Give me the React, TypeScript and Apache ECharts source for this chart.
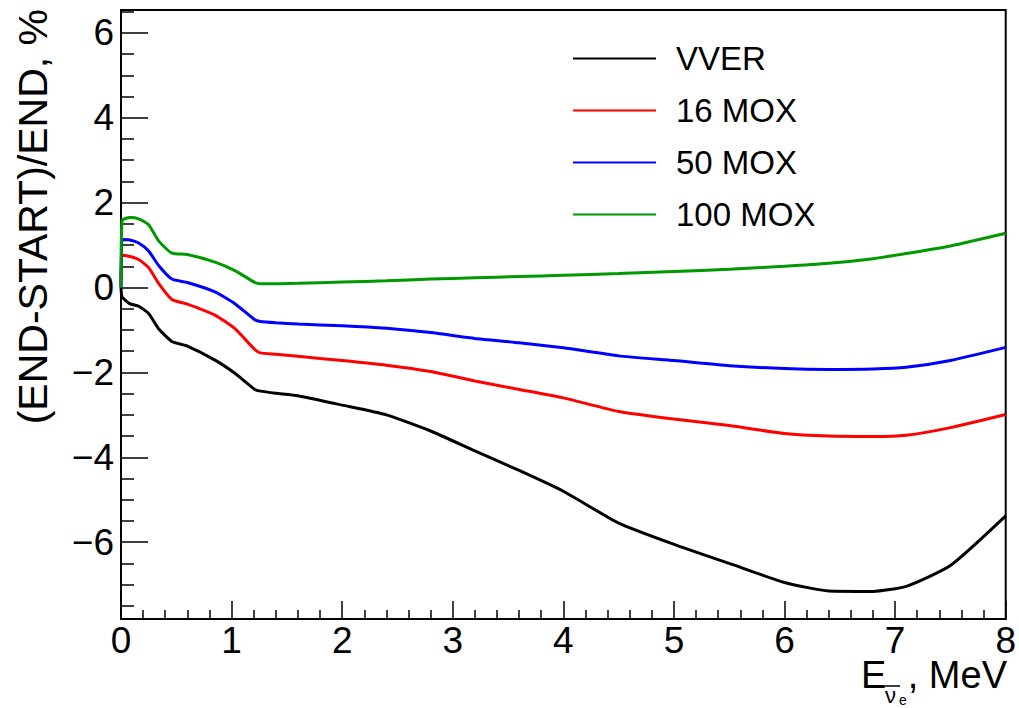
import React, { useEffect, useRef } from "react";
import * as echarts from "echarts";

const SERIES_NAMES = ["VVER", "16 MOX", "50 MOX", "100 MOX"];
const SERIES_COLORS = ["#000000", "#ff0000", "#0000ff", "#009900"];

const ENERGY = [0, 0.01, 0.08, 0.16, 0.25, 0.34, 0.46, 0.6, 0.85, 1.03, 1.21, 1.26, 1.4, 1.6, 2.0, 2.4, 2.8, 3.2, 3.6, 4.0, 4.5, 5.0, 5.5, 6.0, 6.4, 6.8, 7.1, 7.5, 8.0];

const VVER = [0, -0.22, -0.38, -0.44, -0.61, -0.97, -1.27, -1.38, -1.71, -2.02, -2.4, -2.44, -2.49, -2.55, -2.77, -3.0, -3.38, -3.85, -4.31, -4.8, -5.55, -6.05, -6.5, -6.95, -7.15, -7.16, -7.04, -6.55, -5.38];
const MOX16 = [0, 0.76, 0.73, 0.66, 0.47, 0.1, -0.28, -0.39, -0.65, -0.97, -1.46, -1.54, -1.57, -1.62, -1.72, -1.83, -1.98, -2.2, -2.4, -2.6, -2.92, -3.1, -3.25, -3.44, -3.5, -3.51, -3.48, -3.3, -2.99];
const MOX50 = [0, 1.13, 1.12, 1.05, 0.86, 0.52, 0.2, 0.12, -0.1, -0.38, -0.76, -0.8, -0.83, -0.86, -0.9, -0.96, -1.06, -1.2, -1.3, -1.42, -1.61, -1.72, -1.84, -1.91, -1.93, -1.92, -1.88, -1.72, -1.41];
const MOX100 = [0, 1.58, 1.65, 1.62, 1.48, 1.1, 0.81, 0.78, 0.6, 0.4, 0.12, 0.09, 0.09, 0.1, 0.13, 0.16, 0.2, 0.23, 0.26, 0.29, 0.33, 0.38, 0.43, 0.5, 0.57, 0.68, 0.8, 0.98, 1.28];

const X_MIN = 0;
const X_MAX = 8;
const Y_MIN = -7.81;
const Y_MAX = 6.54;
const Y_MAJOR = [-6, -4, -2, 0, 2, 4, 6];
const Y_MINOR = [-7.5, -7, -6.5, -5.5, -5, -4.5, -3.5, -3, -2.5, -1.5, -1, -0.5, 0.5, 1, 1.5, 2.5, 3, 3.5, 4.5, 5, 5.5, 6.5];

const FONT = "Liberation Sans, Arial, Helvetica, sans-serif";

export default function App() {
  const ref = useRef<HTMLDivElement>(null);

  useEffect(() => {
    if (!ref.current) return;
    const chart = echarts.init(ref.current, null, { renderer: "svg" });
    const allValues = [VVER, MOX16, MOX50, MOX100];

    const series = allValues.map((vals, i) => ({
      name: SERIES_NAMES[i],
      type: "line",
      xAxisIndex: 0,
      yAxisIndex: 0,
      data: ENERGY.map((x, j) => [x, vals[j]]),
      showSymbol: false,
      symbol: "none",
      smooth: 0.18,
      lineStyle: { color: SERIES_COLORS[i], width: 3 },
      itemStyle: { color: SERIES_COLORS[i] },
      z: 2 + i,
    }));

    const fmt = (v: number) => {
      if (v < 0) return "\u2212" + Math.abs(v);
      return String(v);
    };

    chart.setOption({
      animation: false,
      backgroundColor: "#ffffff",
      textStyle: { fontFamily: FONT },
      grid: {
        left: 121,
        right: 11,
        top: 10,
        bottom: 89,
        show: true,
        borderColor: "#000",
        borderWidth: 2,
        backgroundColor: "transparent",
      },
      legend: {
        orient: "vertical",
        left: 572,
        top: 42,
        padding: 0,
        itemWidth: 83,
        itemHeight: 3,
        itemGap: 19,
        data: SERIES_NAMES,
        itemStyle: { opacity: 0 },
        textStyle: {
          fontFamily: FONT,
          fontSize: 33,
          lineHeight: 33,
          color: "#000",
          padding: [0, 0, 0, 15],
        },
      },
      xAxis: {
        type: "value",
        min: X_MIN,
        max: X_MAX,
        interval: 1,
        axisLine: { show: true, onZero: false, lineStyle: { color: "#000", width: 2 } },
        axisTick: { show: true, inside: true, length: 18, lineStyle: { color: "#000", width: 1.5 } },
        minorTick: { show: true, splitNumber: 5, length: 9, lineStyle: { color: "#000", width: 1.5 } },
        splitLine: { show: false },
        axisLabel: { fontFamily: FONT, fontSize: 37, color: "#000", margin: 3 },
      },
      yAxis: [
        {
          type: "value",
          position: "left",
          min: Y_MIN,
          max: Y_MAX,
          axisLine: { show: true, onZero: false, lineStyle: { color: "#000", width: 2 } },
          axisTick: {
            show: true,
            inside: true,
            length: 27,
            customValues: Y_MAJOR,
            lineStyle: { color: "#000", width: 1.5 },
          },
          minorTick: { show: false },
          splitLine: { show: false },
          axisLabel: {
            fontFamily: FONT,
            fontSize: 37,
            color: "#000",
            margin: 7,
            customValues: Y_MAJOR,
            formatter: fmt,
          },
        },
        {
          type: "value",
          position: "left",
          offset: 0,
          min: Y_MIN,
          max: Y_MAX,
          axisLine: { show: false },
          axisTick: {
            show: true,
            inside: true,
            length: 13,
            customValues: Y_MINOR,
            lineStyle: { color: "#000", width: 1.5 },
          },
          minorTick: { show: false },
          splitLine: { show: false },
          axisLabel: { show: false },
        },
      ],
      graphic: [
        {
          type: "text",
          x: 33,
          y: 9,
          rotation: Math.PI / 2,
          style: {
            text: "(END-START)/END, %",
            fontFamily: FONT,
            fontSize: 41,
            fill: "#000",
            align: "right",
            verticalAlign: "middle",
          },
        },
        {
          type: "text",
          x: 1007,
          y: 675,
          style: {
            text: ", MeV",
            fontFamily: FONT,
            fontSize: 38,
            fill: "#000",
            align: "right",
            verticalAlign: "middle",
          },
        },
        {
          type: "text",
          x: 861,
          y: 675,
          style: {
            text: "E",
            fontFamily: FONT,
            fontSize: 38,
            fill: "#000",
            align: "left",
            verticalAlign: "middle",
          },
        },
        {
          type: "text",
          x: 885,
          y: 695,
          style: {
            text: "\u03bd",
            fontFamily: FONT,
            fontSize: 22,
            fill: "#000",
            align: "left",
            verticalAlign: "middle",
          },
        },
        {
          type: "line",
          shape: { x1: 885, y1: 686, x2: 900, y2: 686 },
          style: { stroke: "#000", lineWidth: 1.5 },
        },
        {
          type: "text",
          x: 899,
          y: 700,
          style: {
            text: "e",
            fontFamily: FONT,
            fontSize: 14,
            fill: "#000",
            align: "left",
            verticalAlign: "middle",
          },
        },
      ],
      series,
    });

    return () => chart.dispose();
  }, []);

  return (
    <div
      ref={ref}
      style={{ position: "absolute", left: 0, top: 0, width: 1019, height: 708 }}
    />
  );
}
